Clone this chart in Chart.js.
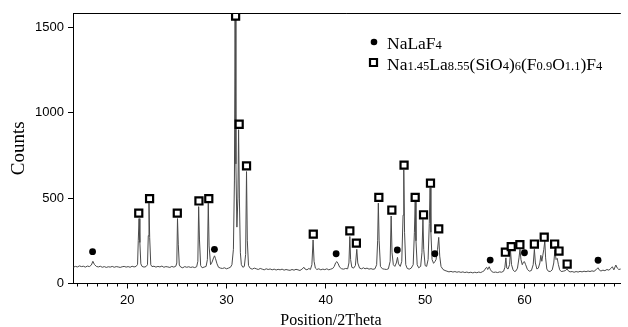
<!DOCTYPE html>
<html>
<head>
<meta charset="utf-8">
<script src="https://cdn.jsdelivr.net/npm/chart.js@4.4.1/dist/chart.umd.min.js"></script>
<style>
  body { margin: 0; background: #fff; }
  canvas { display: block; }
</style>
</head>
<body>
<canvas id="xrd" width="628" height="327"></canvas>
<script>
// XRD pattern: [2theta, counts]
const trace = [
  [14.6,96],[14.8,100],[15.0,97],[15.2,103],[15.4,99],[15.6,101],[15.8,96],[16.0,102],[16.2,99],[16.4,108],
  [16.55,130],[16.7,112],[16.9,100],[17.1,97],[17.3,101],[17.5,95],[17.7,99],[17.9,94],[18.1,98],[18.3,96],
  [18.5,100],[18.7,95],[18.9,99],[19.1,97],[19.3,94],[19.5,98],[19.7,100],[19.9,96],[20.1,99],[20.3,95],
  [20.5,101],[20.7,97],[20.9,100],[21.05,112],[21.12,250],[21.2,380],[21.28,240],[21.38,115],[21.5,100],[21.7,96],
  [21.9,99],[22.05,110],[22.13,280],[22.2,470],[22.27,270],[22.38,110],[22.5,99],[22.7,101],[22.9,96],[23.1,100],
  [23.3,97],[23.5,102],[23.7,95],[23.9,99],[24.1,97],[24.3,94],[24.5,100],[24.7,96],[24.9,101],[25.0,120],
  [25.07,380],[25.15,230],[25.25,108],[25.4,96],[25.6,92],[25.8,99],[26.0,95],[26.2,98],[26.4,94],[26.6,97],
  [26.8,93],[27.0,98],[27.12,130],[27.2,450],[27.28,260],[27.4,105],[27.55,92],[27.75,96],[27.95,100],[28.08,140],
  [28.17,470],[28.25,220],[28.4,110],[28.55,125],[28.7,150],[28.8,162],[28.9,145],[29.05,115],[29.2,95],[29.4,90],
  [29.6,88],[29.8,92],[30.0,86],[30.2,90],[30.4,95],[30.55,110],[30.7,200],[30.8,600],[30.87,1565],[30.95,700],
  [31.05,330],[31.15,500],[31.22,900],[31.3,500],[31.4,180],[31.5,110],[31.65,95],[31.8,100],[31.93,170],[32.02,655],
  [32.1,250],[32.22,105],[32.4,88],[32.6,84],[32.8,90],[33.0,86],[33.2,82],[33.4,88],[33.6,84],[33.8,80],
  [34.0,86],[34.2,82],[34.4,85],[34.6,80],[34.8,84],[35.0,79],[35.2,83],[35.4,80],[35.6,84],[35.8,78],
  [36.0,82],[36.2,79],[36.4,77],[36.6,82],[36.8,78],[37.0,83],[37.2,80],[37.4,76],[37.6,84],[37.8,95],
  [37.9,85],[38.1,80],[38.3,88],[38.45,82],[38.6,110],[38.72,255],[38.82,130],[38.95,90],[39.1,82],[39.3,86],
  [39.5,80],[39.7,84],[39.9,81],[40.1,86],[40.3,80],[40.5,84],[40.7,88],[40.85,100],[41.0,122],[41.12,128],
  [41.25,115],[41.4,95],[41.6,86],[41.8,84],[42.0,88],[42.2,86],[42.33,120],[42.42,275],[42.5,140],[42.62,95],
  [42.8,90],[42.98,105],[43.12,200],[43.22,120],[43.4,90],[43.6,86],[43.8,92],[43.95,86],[44.15,90],[44.35,84],
  [44.55,87],[44.75,83],[44.95,86],[45.12,110],[45.22,250],[45.29,470],[45.37,250],[45.5,100],[45.7,86],[45.9,84],
  [46.1,82],[46.3,86],[46.48,130],[46.58,395],[46.67,180],[46.8,110],[46.95,100],[47.1,120],[47.22,153],[47.32,115],
  [47.5,100],[47.65,130],[47.78,400],[47.85,665],[47.93,300],[48.05,110],[48.2,88],[48.4,84],[48.6,90],[48.8,110],
  [48.92,300],[49.0,480],[49.08,250],[49.2,110],[49.35,92],[49.55,100],[49.68,180],[49.78,375],[49.86,200],[50.0,105],
  [50.15,100],[50.3,140],[50.42,350],[50.5,560],[50.58,300],[50.7,140],[50.85,118],[50.98,128],[51.1,140],[51.25,200],
  [51.37,270],[51.47,160],[51.6,100],[51.8,82],[52.0,76],[52.2,72],[52.4,68],[52.6,71],[52.8,67],[53.0,70],
  [53.2,66],[53.4,69],[53.6,65],[53.8,68],[54.0,64],[54.2,67],[54.4,63],[54.6,66],[54.8,62],[55.0,66],
  [55.2,63],[55.4,67],[55.6,64],[55.8,70],[55.95,75],[56.1,90],[56.2,95],[56.3,82],[56.45,98],[56.58,80],
  [56.75,68],[56.9,65],[57.1,67],[57.3,64],[57.5,68],[57.7,66],[57.9,72],[58.03,95],[58.13,150],[58.22,90],
  [58.35,85],[58.5,110],[58.6,190],[58.7,110],[58.85,80],[59.0,70],[59.15,74],[59.3,90],[59.45,150],[59.55,200],
  [59.65,140],[59.78,110],[59.9,125],[60.0,128],[60.12,110],[60.3,82],[60.5,72],[60.7,76],[60.88,110],[61.0,200],
  [61.1,120],[61.25,85],[61.4,90],[61.55,120],[61.65,165],[61.75,130],[61.85,165],[61.95,200],[62.05,249],[62.13,150],
  [62.25,85],[62.4,72],[62.6,70],[62.8,80],[62.95,120],[63.07,196],[63.18,140],[63.3,147],[63.42,110],[63.55,80],
  [63.7,70],[63.9,72],[64.1,75],[64.3,85],[64.45,72],[64.6,68],[64.8,70],[65.0,66],[65.2,70],[65.4,67],
  [65.6,71],[65.8,68],[66.0,72],[66.2,69],[66.4,73],[66.6,70],[66.8,74],[67.0,71],[67.2,80],[67.4,92],
  [67.55,78],[67.7,73],[67.9,78],[68.1,75],[68.3,82],[68.5,78],[68.7,88],[68.85,98],[69.0,80],[69.2,108],
  [69.35,90],[69.5,82],[69.7,85]
];

// open squares: Na1.45La8.55(SiO4)6(F0.9O1.1)F4 reflections
const squareX = [21.17, 22.26, 25.05, 27.23, 28.22, 30.92, 31.28, 32.02, 38.74, 42.42, 43.08, 45.34, 46.65,
                 47.88, 49.0, 49.84, 50.54, 51.37, 58.08, 58.67, 59.54, 61.0, 61.99, 63.04, 63.48, 64.3];
const squareY = [412, 497, 412, 483, 497, 1565, 932, 688, 289, 308, 236, 504, 430,
                 693, 504, 402, 587, 320, 183, 216, 227, 231, 271, 231, 190, 114];

// filled dots: NaLaF4 reflections
const dotX = [16.52, 28.79, 41.04, 47.2, 50.98, 56.55, 60.0, 67.41];
const dotY = [186, 200, 174, 196, 174, 137, 180, 136];

const xTickLabels = [20, 30, 40, 50, 60];
const yTickValues = [0, 500, 1000, 1500];

// legend text split into [text, isSubscript]
const legendNaLaF4 = [['NaLaF', 0], ['4', 1]];
const legendApatite = [['Na', 0], ['1.45', 1], ['La', 0], ['8.55', 1], ['(SiO', 0], ['4', 1], [')', 0], ['6', 1],
                       ['(F', 0], ['0.9', 1], ['O', 0], ['1.1', 1], [')F', 0], ['4', 1]];

const SERIF = '"Liberation Serif", "Times New Roman", serif';
const SANS = '"Liberation Sans", Arial, sans-serif';

function drawSquare(ctx, x, y) {
    ctx.save();
    ctx.lineWidth = 2.2;
    ctx.strokeStyle = '#000';
    ctx.fillStyle = '#fff';
    ctx.beginPath();
    ctx.rect(x - 3.5, y - 3.5, 7, 7);
    ctx.fill();
    ctx.stroke();
    ctx.restore();
}

function drawRichText(ctx, parts, x, y) {
    for (const [txt, sub] of parts) {
        ctx.font = sub ? '12.5px ' + SERIF : '17.5px ' + SERIF;
        ctx.fillText(txt, x, y);
        x += ctx.measureText(txt).width;
    }
}

const decorations = {
    id: 'decorations',
    afterDraw(chart) {
        const { ctx, chartArea, scales } = chart;
        ctx.save();
        // top frame line
        ctx.strokeStyle = '#000';
        ctx.lineWidth = 1;
        ctx.beginPath();
        ctx.moveTo(chartArea.left, chartArea.top + 0.5);
        ctx.lineTo(chartArea.right, chartArea.top + 0.5);
        ctx.stroke();

        // minor ticks on x axis
        const xs = scales.x;
        ctx.beginPath();
        for (let v = Math.ceil(xs.min); v <= xs.max; v++) {
            if (xTickLabels.includes(v)) continue;
            const px = Math.round(xs.getPixelForValue(v)) + 0.5;
            ctx.moveTo(px, chartArea.bottom);
            ctx.lineTo(px, chartArea.bottom + 3);
        }
        ctx.stroke();

        // axis titles
        ctx.fillStyle = '#000';
        ctx.font = '16px ' + SERIF;
        ctx.textAlign = 'center';
        ctx.textBaseline = 'alphabetic';
        ctx.fillText('Position/2Theta', 331, 325);

        ctx.save();
        ctx.translate(24, (chartArea.top + chartArea.bottom) / 2);
        ctx.rotate(-Math.PI / 2);
        ctx.font = '19px ' + SERIF;
        ctx.fillText('Counts', 0, 0);
        ctx.restore();

        // legend
        ctx.beginPath();
        ctx.arc(374, 42, 3.3, 0, Math.PI * 2);
        ctx.fill();
        drawSquare(ctx, 373.5, 62.5);
        ctx.textAlign = 'left';
        drawRichText(ctx, legendNaLaF4, 387, 48.5);
        drawRichText(ctx, legendApatite, 387, 69.5);
        ctx.restore();
    }
};

new Chart(document.getElementById('xrd'), {
    type: 'scatter',
    data: {
        datasets: [
            {
                label: 'squares',
                data: squareX.map((x, i) => ({ x, y: squareY[i] })),
                pointStyle: 'rect',
                pointRadius: 5,
                borderWidth: 2.2,
                borderColor: '#000',
                backgroundColor: '#fff',
                order: 0
            },
            {
                label: 'dots',
                data: dotX.map((x, i) => ({ x, y: dotY[i] })),
                pointStyle: 'circle',
                pointRadius: 3.4,
                borderWidth: 0,
                backgroundColor: '#000',
                order: 0
            },
            {
                label: 'pattern',
                data: trace.map(([x, y]) => ({ x, y })),
                showLine: true,
                pointRadius: 0,
                borderColor: '#4a4a4a',
                borderWidth: 1,
                tension: 0,
                order: 1
            }
        ]
    },
    options: {
        responsive: false,
        animation: false,
        devicePixelRatio: 1,
        layout: { padding: { top: 13, right: 0, left: 0, bottom: 0 } },
        plugins: {
            legend: { display: false },
            tooltip: { enabled: false }
        },
        scales: {
            x: {
                type: 'linear',
                min: 14.55,
                max: 69.7,
                afterFit: (s) => { s.height = 43.5; },
                border: { display: true, color: '#000', width: 1 },
                grid: {
                    drawOnChartArea: false,
                    tickLength: 5,
                    tickColor: (c) => (c.tick && xTickLabels.includes(c.tick.value)) ? '#000' : 'rgba(0,0,0,0)'
                },
                ticks: {
                    stepSize: 1,
                    autoSkip: false,
                    maxRotation: 0,
                    includeBounds: false,
                    padding: 4,
                    color: '#000',
                    font: { family: SANS, size: 13 },
                    callback: (v) => xTickLabels.includes(v) ? String(v) : ''
                }
            },
            y: {
                min: 0,
                max: 1583,
                afterFit: (s) => { s.width = 73; },
                afterBuildTicks: (s) => { s.ticks = yTickValues.map((v) => ({ value: v })); },
                border: { display: true, color: '#000', width: 1 },
                grid: { drawOnChartArea: false, tickLength: 5, tickColor: '#000' },
                ticks: {
                    padding: 4,
                    color: '#000',
                    font: { family: SANS, size: 13 },
                    callback: (v) => String(v)
                }
            }
        }
    },
    plugins: [decorations]
});
</script>
</body>
</html>
